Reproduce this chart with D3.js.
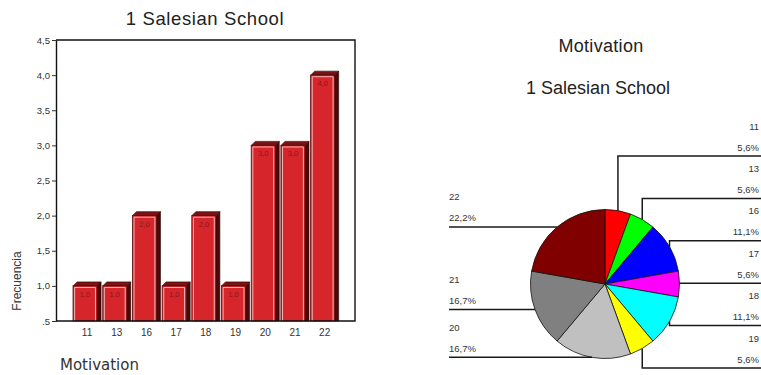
<!DOCTYPE html>
<html>
<head>
<meta charset="utf-8">
<script src="https://cdn.jsdelivr.net/npm/d3@7/dist/d3.min.js"></script>
<style>
  html, body { margin: 0; padding: 0; background: #fff; }
  svg { display: block; }
  text { font-family: "Liberation Sans", Arial, sans-serif; }
</style>
</head>
<body>
<svg id="chart" width="761" height="375"></svg>
<script>
// Motivation scores and their frequencies for 1 Salesian School
const categories = ["11", "13", "16", "17", "18", "19", "20", "21", "22"];
const frequencies = [1, 1, 2, 1, 2, 1, 3, 3, 4];
const yTickValues = [0.5, 1.0, 1.5, 2.0, 2.5, 3.0, 3.5, 4.0, 4.5];
const yTickLabels = [".5", "1,0", "1,5", "2,0", "2,5", "3,0", "3,5", "4,0", "4,5"];
const sliceColors = ["#ff0000", "#00ff00", "#0000ff", "#ff00ff", "#00ffff",
                     "#ffff00", "#c0c0c0", "#808080", "#800000"];
const schoolTitle = "1 Salesian School";
const variableName = "Motivation";
const yAxisTitle = "Frecuencia";

const svg = d3.select("#chart");
const comma = s => s.replace(".", ",");

// ---------- Bar chart (left) ----------
const frame = { left: 56, right: 355, top: 40, bottom: 321 };
const x = d3.scaleBand().domain(categories)
  .range([70.2, 337.5]).paddingInner(0.19).paddingOuter(0.095);
const y = d3.scaleLinear().domain([0.5, 4.5]).range([frame.bottom, frame.top]);
const depth = 4;

const bars = svg.append("g").attr("class", "bars");
categories.forEach((c, i) => {
  const v = frequencies[i];
  const x0 = x(c), w = x.bandwidth(), yT = y(v), yB = y(0.5);
  const g = bars.append("g");
  // right-hand side face
  g.append("path")
    .attr("d", `M${x0 + w},${yT} L${x0 + w + depth},${yT - depth} L${x0 + w + depth},${yB} L${x0 + w},${yB} Z`)
    .attr("fill", "#4a0808").attr("stroke", "#2a0404").attr("stroke-width", 0.6);
  // top face
  g.append("path")
    .attr("d", `M${x0},${yT} L${x0 + depth},${yT - depth} L${x0 + w + depth},${yT - depth} L${x0 + w},${yT} Z`)
    .attr("fill", "#7a1414").attr("stroke", "#2a0404").attr("stroke-width", 0.6);
  // front face
  g.append("rect")
    .attr("x", x0).attr("y", yT).attr("width", w).attr("height", yB - yT)
    .attr("fill", "#d7262b").attr("stroke", "#5a0a0a").attr("stroke-width", 0.8);
  // light inner edge
  g.append("path")
    .attr("d", `M${x0 + 1.6},${yB} V${yT + 1.6} H${x0 + w - 1.6} V${yB}`)
    .attr("fill", "none").attr("stroke", "#f3b3b3").attr("stroke-width", 1);
  // value label
  g.append("text")
    .attr("x", x0 + w / 2).attr("y", yT + 11)
    .attr("text-anchor", "middle")
    .attr("font-size", 7.5).attr("fill", "#8a1818")
    .text(comma(v.toFixed(1)));
});

// frame
svg.append("path")
  .attr("d", `M${frame.left},${frame.top} H${frame.right} V${frame.bottom} H${frame.left}`)
  .attr("fill", "none").attr("stroke", "#111").attr("stroke-width", 1.4);

// y axis
const yAxis = d3.axisLeft(y).tickValues(yTickValues)
  .tickFormat((d, i) => yTickLabels[i]).tickSize(4).tickSizeOuter(0).tickPadding(2);
const gy = svg.append("g").attr("transform", `translate(${frame.left},0)`).call(yAxis);
gy.select(".domain").attr("stroke", "#111").attr("stroke-width", 1.4);
gy.selectAll(".tick line").attr("stroke", "#333");
gy.selectAll(".tick text").attr("font-size", 9.5).attr("fill", "#333")
  .style("font-family", "'Liberation Sans', Arial, sans-serif");

// x axis labels
const xAxis = d3.axisBottom(x).tickSize(0).tickPadding(8);
const gx = svg.append("g").attr("transform", `translate(${depth / 2},${frame.bottom})`).call(xAxis);
gx.select(".domain").remove();
gx.selectAll(".tick text").attr("font-size", 10).attr("fill", "#333")
  .style("font-family", "'Liberation Sans', Arial, sans-serif");

// titles
svg.append("text").attr("x", 205).attr("y", 25).attr("text-anchor", "middle")
  .attr("font-size", 18.5).attr("letter-spacing", 0.6).attr("fill", "#222").text(schoolTitle);
svg.append("text").attr("transform", "translate(21,281) rotate(-90)")
  .attr("text-anchor", "middle").attr("font-size", 12).attr("fill", "#333").text(yAxisTitle);
svg.append("text").attr("x", 60).attr("y", 370)
  .attr("font-size", 15).attr("fill", "#333")
  .style("font-family", "'DejaVu Sans', Verdana, sans-serif").text(variableName);

// ---------- Pie chart (right) ----------
svg.append("text").attr("x", 601).attr("y", 52).attr("text-anchor", "middle")
  .attr("font-size", 18).attr("letter-spacing", 0.3).attr("fill", "#222").text(variableName);
svg.append("text").attr("x", 598).attr("y", 94).attr("text-anchor", "middle")
  .attr("font-size", 18).attr("fill", "#222").text(schoolTitle);

const cx = 605, cy = 284, r = 74.5;
const total = d3.sum(frequencies);
const pie = d3.pie().sort(null).value(d => d.v);
const arcs = pie(categories.map((c, i) => ({ c, v: frequencies[i], color: sliceColors[i] })));
const arc = d3.arc().innerRadius(0).outerRadius(r);

const gp = svg.append("g").attr("transform", `translate(${cx},${cy})`);
gp.selectAll("path").data(arcs).join("path")
  .attr("d", arc).attr("fill", d => d.data.color)
  .attr("stroke", "#111").attr("stroke-width", 0.8).attr("stroke-linejoin", "round");

// leader lines and labels
const rightTop = 156, rightStep = 42.4, leftEdge = 449, rightEdge = 761;
let ri = 0;
const leaders = svg.append("g");
arcs.forEach(a => {
  const m = (a.startAngle + a.endAngle) / 2;
  const px = cx + r * Math.sin(m), py = cy - r * Math.cos(m);
  const right = Math.sin(m) > 0;
  const ly = right ? rightTop + (ri++) * rightStep : py;
  leaders.append("path")
    .attr("d", `M${px},${py} V${ly} H${right ? rightEdge : leftEdge}`)
    .attr("fill", "none").attr("stroke", "#1a1a1a").attr("stroke-width", 1.5);
  const tx = right ? 759 : leftEdge;
  const anchor = right ? "end" : "start";
  const pct = comma((a.data.v / total * 100).toFixed(1)) + "%";
  leaders.append("text").attr("x", tx).attr("y", ly - 26.5).attr("text-anchor", anchor)
    .attr("font-size", 9.5).attr("fill", "#333").text(a.data.c);
  leaders.append("text").attr("x", tx).attr("y", ly - 5.5).attr("text-anchor", anchor)
    .attr("font-size", 9.5).attr("fill", "#333").text(pct);
});
</script>
</body>
</html>
